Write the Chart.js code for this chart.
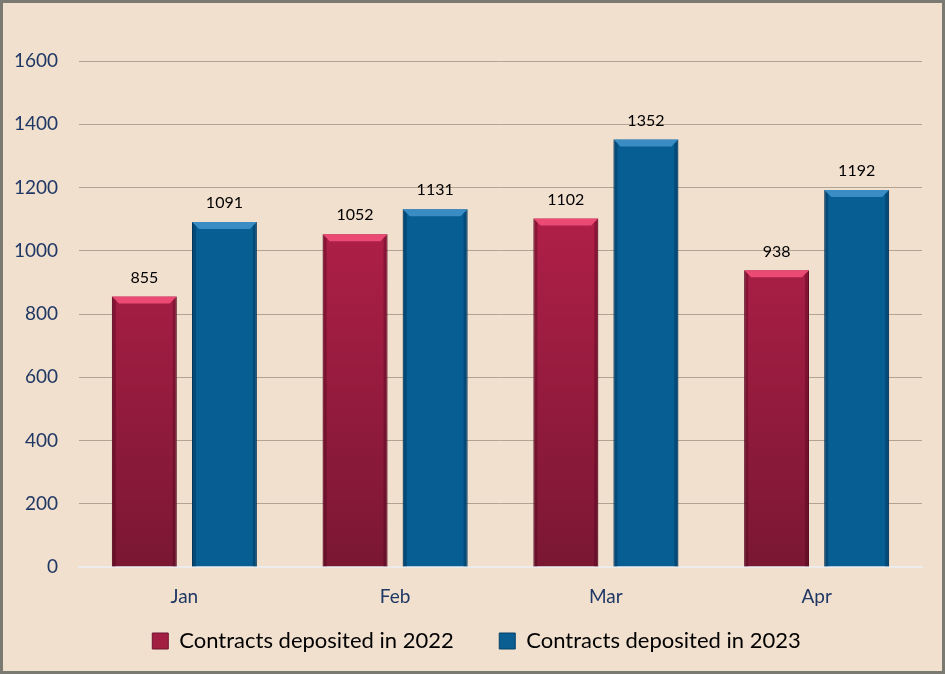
<!DOCTYPE html>
<html>
<head>
<meta charset="utf-8">
<script src="https://cdn.jsdelivr.net/npm/chart.js@4"></script>
<style>
  html, body { margin: 0; padding: 0; }
  body { width: 945px; height: 674px; box-sizing: border-box; border: 3px solid #7a7a72; background: #f2e0cf; }
  #wrap { width: 939px; height: 668px; }
</style>
</head>
<body>
<div id="wrap"><canvas id="myChart"></canvas></div>
<script>
// months and values
const months = ['Jan', 'Feb', 'Mar', 'Apr'];
const deposited2022 = [855, 1052, 1102, 938];
const deposited2023 = [1091, 1131, 1352, 1192];
const yTicks = [0, 200, 400, 600, 800, 1000, 1200, 1400, 1600];

const navy = '#1f3864';

// red bars get a vertical gradient (bright on top, dark at bottom)
function redGradient(context) {
    const chart = context.chart;
    const area = chart.chartArea;
    if (!area) return '#b0224a';
    const g = chart.ctx.createLinearGradient(0, area.top, 0, area.bottom);
    g.addColorStop(0, '#c82350');
    g.addColorStop(1, '#7a1733');
    return g;
}

// small bevel on top of each bar + value label above
const bevelAndLabels = {
    id: 'bevelAndLabels',
    afterLayout(chart) {
        // legend sits a bit right of centre in the original
        if (chart.legend) {
            chart.legend.left += 14;
            chart.legend.right += 14;
        }
    },
    afterDatasetsDraw(chart) {
        const ctx = chart.ctx;
        chart.data.datasets.forEach((ds, di) => {
            const meta = chart.getDatasetMeta(di);
            const light = di === 0 ? '#ea4a74' : '#3a8cc4';
            const side = di === 0 ? 'rgba(60,0,20,0.3)' : 'rgba(0,30,60,0.3)';
            meta.data.forEach((bar, i) => {
                const x0 = bar.x - bar.width / 2;
                const x1 = bar.x + bar.width / 2;
                const top = bar.y;
                const bot = bar.base;
                ctx.save();
                // top highlight
                ctx.fillStyle = light;
                ctx.beginPath();
                ctx.moveTo(x0, top);
                ctx.lineTo(x1, top);
                ctx.lineTo(x1 - 7, top + 7);
                ctx.lineTo(x0 + 7, top + 7);
                ctx.closePath();
                ctx.fill();
                // darker sides
                ctx.fillStyle = side;
                ctx.beginPath();
                ctx.moveTo(x0, top);
                ctx.lineTo(x0 + 4, top + 4);
                ctx.lineTo(x0 + 4, bot);
                ctx.lineTo(x0, bot);
                ctx.closePath();
                ctx.fill();
                ctx.beginPath();
                ctx.moveTo(x1, top);
                ctx.lineTo(x1 - 4, top + 4);
                ctx.lineTo(x1 - 4, bot);
                ctx.lineTo(x1, bot);
                ctx.closePath();
                ctx.fill();
                // label
                ctx.fillStyle = '#000';
                ctx.font = '16px Lato';
                ctx.textAlign = 'center';
                ctx.textBaseline = 'middle';
                ctx.fillText(ds.data[i], bar.x, top - 19);
                ctx.restore();
            });
        });
    }
};

let ctx = document.getElementById('myChart').getContext('2d');
let myChart = new Chart(ctx, {
    type: 'bar',
    data: {
        labels: months,
        datasets: [{
            label: 'Contracts deposited in 2022',
            data: deposited2022,
            backgroundColor: redGradient,
            borderColor: '#6e1430',
            borderWidth: 1,
            categoryPercentage: 0.76,
            barPercentage: 0.81
        }, {
            label: 'Contracts deposited in 2023',
            data: deposited2023,
            backgroundColor: '#065e93',
            borderColor: '#04426a',
            borderWidth: 1,
            categoryPercentage: 0.76,
            barPercentage: 0.81
        }]
    },
    options: {
        responsive: true,
        maintainAspectRatio: false,
        animation: false,
        layout: { padding: { top: 58, right: 20, left: 0, bottom: 9 } },
        scales: {
            x: {
                grid: { display: false, drawTicks: false },
                border: { color: '#ececec', width: 2 },
                ticks: { color: navy, font: { family: 'Lato', size: 19 }, padding: 18 },
                afterFit: axis => { axis.height = 40; }
            },
            y: {
                min: 0,
                max: 1600,
                afterBuildTicks: axis => { axis.ticks = yTicks.map(v => ({ value: v })); },
                grid: { color: '#b3a394', drawTicks: false },
                border: { display: false },
                ticks: {
                    color: navy,
                    font: { family: 'Lato', size: 19 },
                    padding: 21,
                    callback: v => String(v)
                },
                afterFit: axis => { axis.width = 76; }
            }
        },
        plugins: {
            legend: {
                position: 'bottom',
                labels: {
                    color: navy,
                    font: { family: 'Lato', size: 22 },
                    boxWidth: 16,
                    boxHeight: 16,
                    padding: 23,
                    generateLabels: chart => chart.data.datasets.map((ds, i) => ({
                        // extra spaces widen the gap between the two items
                        text: i === 0 ? ds.label + '    ' : ds.label,
                        fillStyle: i === 0 ? '#a31f42' : '#0a5e92',
                        strokeStyle: i === 0 ? '#6e1430' : '#04426a',
                        lineWidth: 1,
                        datasetIndex: i
                    }))
                }
            },
            tooltip: { enabled: false }
        }
    },
    plugins: [bevelAndLabels]
});
</script>
</body>
</html>
